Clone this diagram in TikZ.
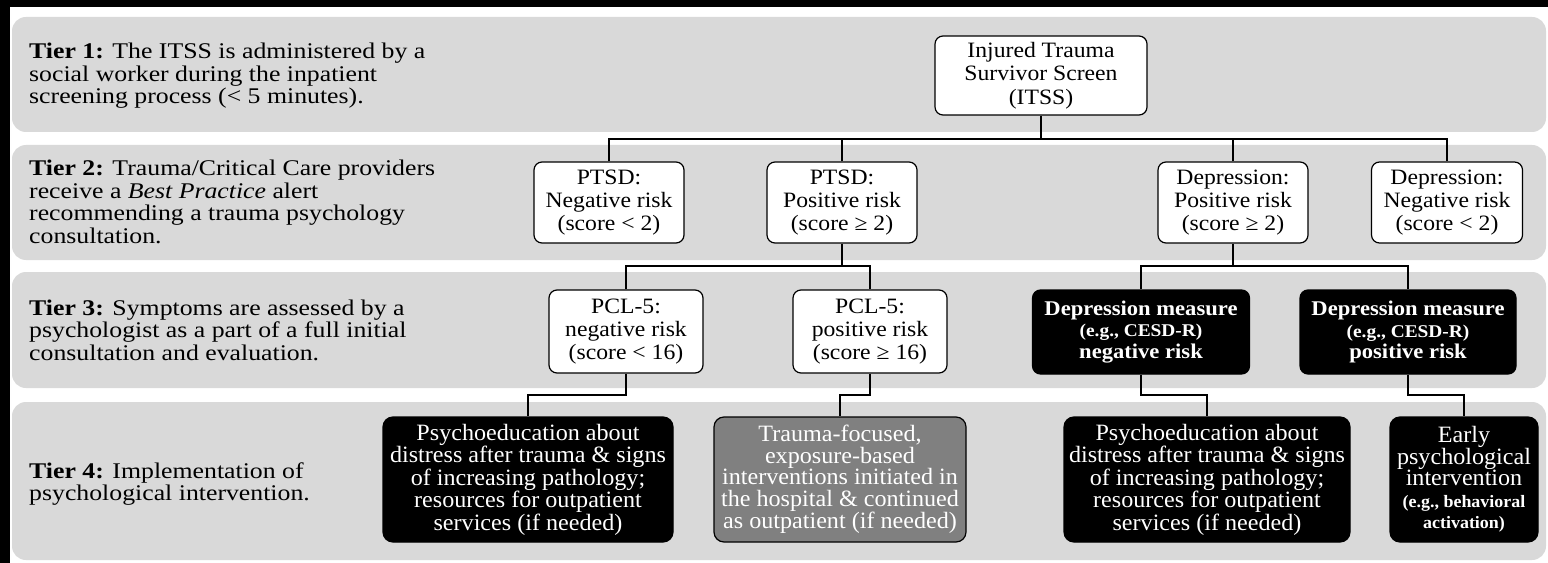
\documentclass[tikz,border=0pt]{standalone}
\usepackage{fontspec}
\setmainfont{Liberation Serif}
\newfontfamily\lblfont{Liberation Serif}[FakeStretch=1.15]
\newfontfamily\boxfont{Liberation Serif}[FakeStretch=1.08]
\newfontfamily\condfont{Liberation Serif}[FakeStretch=1.03]
\definecolor{bandgray}{HTML}{D9D9D9}
\definecolor{midgray}{HTML}{808080}
\begin{document}
\begin{tikzpicture}[x=1bp,y=-1bp,
  conn/.style={draw=black, line width=1.3bp},
  band/.style={fill=bandgray, draw=none, rounded corners=14bp},
  tierlbl/.style={anchor=west, align=left, inner sep=0pt, font=\lblfont\fontsize{22.5}{22.5}\selectfont},
  wbox/.style={draw=black, line width=1.2bp, fill=white, rounded corners=8bp, inner sep=0pt, align=center, font=\boxfont\fontsize{22}{23.5}\selectfont},
  bbox/.style={draw=black, line width=1.2bp, fill=black, text=white, rounded corners=8bp, inner sep=0pt, align=center, font=\boxfont\bfseries\fontsize{21}{22}\selectfont},
  ibox/.style={draw=black, line width=1.2bp, fill=black, text=white, rounded corners=10bp, inner sep=0pt, align=center, font=\condfont\fontsize{23.5}{21.5}\selectfont},
  gbox/.style={ibox, fill=midgray}
]
% page and background
\useasboundingbox (0,0) rectangle (1548,563);
\fill[white] (0,0) rectangle (1548,563);
\fill[black] (0,0) rectangle (1548,7);
\fill[black] (0,0) rectangle (10,563);
% tier bands
\path[band] (12,17) rectangle (1546,132);
\path[band] (12,145) rectangle (1546,260);
\path[band] (12,272) rectangle (1546,388);
\path[band] (12,402) rectangle (1546,560);

% tier labels
\node[tierlbl] (t1) at (29,76) {\textbf{Tier 1:} The ITSS is administered by a\\social worker during the inpatient\\screening process (< 5 minutes).};
\node[tierlbl] (t2) at (29,202) {\textbf{Tier 2:} Trauma/Critical Care providers\\receive a \textit{Best Practice} alert\\recommending a trauma psychology\\consultation.};
\node[tierlbl] (t3) at (29,330) {\textbf{Tier 3:} Symptoms are assessed by a\\psychologist as a part of a full initial\\consultation and evaluation.};
\node[tierlbl] (t4) at (29,484) {\textbf{Tier 4:} Implementation of\\psychological intervention.};

% tier 1
\node[wbox, minimum width=212bp, minimum height=79bp] (itss) at (1041,75.5) {Injured Trauma\\Survivor Screen\\(ITSS)};

% tier 2
\node[wbox, minimum width=150bp, minimum height=81bp] (ptsdN) at (609,202.5) {PTSD:\\Negative risk\\(score < 2)};
\node[wbox, minimum width=150bp, minimum height=81bp] (ptsdP) at (842,202.5) {PTSD:\\Positive risk\\(score ≥ 2)};
\node[wbox, minimum width=150bp, minimum height=81bp] (depP) at (1233,202.5) {Depression:\\Positive risk\\(score ≥ 2)};
\node[wbox, minimum width=151bp, minimum height=81bp] (depN) at (1447,202.5) {Depression:\\Negative risk\\(score < 2)};

% tier 3
\node[wbox, minimum width=154bp, minimum height=83bp] (pclN) at (626,331.5) {PCL-5:\\negative risk\\(score < 16)};
\node[wbox, minimum width=154bp, minimum height=83bp] (pclP) at (870,331.5) {PCL-5:\\positive risk\\(score ≥ 16)};
\node[bbox, minimum width=217bp, minimum height=84bp] (dmN) at (1141,332) {Depression measure\\\fontsize{18}{22}\selectfont (e.g., CESD-R)\\\fontsize{21}{22}\selectfont negative risk};
\node[bbox, minimum width=216bp, minimum height=84bp] (dmP) at (1408,332) {Depression measure\\\fontsize{18}{22}\selectfont (e.g., CESD-R)\\\fontsize{21}{22}\selectfont positive risk};

% tier 4
\node[ibox, minimum width=290bp, minimum height=125bp] (psyA) at (528,479.5) {Psychoeducation about\\distress after trauma \& signs\\of increasing pathology;\\resources for outpatient\\services (if needed)};
\node[gbox, minimum width=252bp, minimum height=125bp] (trauma) at (840,479.5) {Trauma-focused,\\exposure-based\\interventions initiated in\\the hospital \& continued\\as outpatient (if needed)};
\node[ibox, minimum width=286bp, minimum height=125bp] (psyB) at (1207,479.5) {Psychoeducation about\\distress after trauma \& signs\\of increasing pathology;\\resources for outpatient\\services (if needed)};
\node[ibox, minimum width=148bp, minimum height=125bp] (early) at (1464,479.5) {Early\\psychological\\intervention\\\bfseries\fontsize{17.5}{19.5}\selectfont (e.g., behavioral\\\bfseries\fontsize{17.5}{19.5}\selectfont activation)};

% connector buses
\coordinate (bus1) at (1041,139);
\coordinate (bus2) at (0,266);
\coordinate (bus3) at (0,395);

% tier 1 -> tier 2
\draw[conn] (itss.south) -- (itss.south |- bus1);
\draw[conn] (ptsdN.north) -- (ptsdN.north |- bus1) -- (depN.north |- bus1) -- (depN.north);
\draw[conn] (ptsdP.north) -- (ptsdP.north |- bus1);
\draw[conn] (depP.north) -- (depP.north |- bus1);

% tier 2 -> tier 3
\draw[conn] (ptsdP.south) -- (ptsdP.south |- bus2);
\draw[conn] (pclN.north) -- (pclN.north |- bus2) -- (pclP.north |- bus2) -- (pclP.north);
\draw[conn] (depP.south) -- (depP.south |- bus2);
\draw[conn] (dmN.north) -- (dmN.north |- bus2) -- (dmP.north |- bus2) -- (dmP.north);

% tier 3 -> tier 4
\draw[conn] (pclN.south) -- (pclN.south |- bus3) -- (psyA.north |- bus3) -- (psyA.north);
\draw[conn] (pclP.south) -- (pclP.south |- bus3) -- (trauma.north |- bus3) -- (trauma.north);
\draw[conn] (dmN.south) -- (dmN.south |- bus3) -- (psyB.north |- bus3) -- (psyB.north);
\draw[conn] (dmP.south) -- (dmP.south |- bus3) -- (early.north |- bus3) -- (early.north);
\end{tikzpicture}
\end{document}
